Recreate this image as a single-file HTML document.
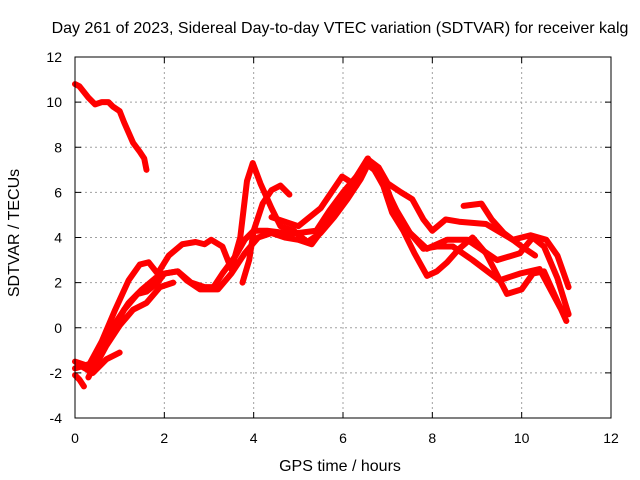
<!DOCTYPE html>
<html><head><meta charset="utf-8"><style>
body{margin:0;background:#fff}
svg{display:block;font-family:"Liberation Sans",sans-serif}
</style></head><body>
<svg id="chart" width="640" height="480">
<rect width="640" height="480" fill="#fff"/>
<text x="340" y="33" text-anchor="middle" font-size="16">Day 261 of 2023, Sidereal Day-to-day VTEC variation (SDTVAR) for receiver kalg</text>
<g id="grid"></g>
<g id="series"></g>
<rect x="75" y="57" width="536" height="361" fill="none" stroke="#000" stroke-width="1"/>
<g id="ticks"></g>
<text x="340" y="471" text-anchor="middle" font-size="16">GPS time / hours</text>
<text x="19" y="233" text-anchor="middle" font-size="16" transform="rotate(-90 19 233)">SDTVAR / TECUs</text>
</svg>
<script>
const xTicks=[0,2,4,6,8,10,12];
const yTicks=[-4,-2,0,2,4,6,8,10,12];
const trackA=[[0,10.8],[0.1,10.7],[0.3,10.2],[0.45,9.9],[0.6,10],[0.75,10],[0.85,9.8],[1.0,9.6],[1.1,9.1],[1.3,8.2],[1.45,7.8],[1.55,7.5],[1.6,7.0]];
const trackB=[[0,-1.5],[0.3,-1.7],[0.6,-0.6],[0.9,0.8],[1.2,2.1],[1.45,2.8],[1.65,2.9],[1.85,2.4],[2.1,3.2],[2.4,3.7],[2.7,3.8],[2.9,3.7],[3.05,3.9],[3.3,3.6],[3.5,2.6],[3.7,4.0],[3.85,6.5],[3.98,7.3],[4.15,6.4],[4.4,5.3],[4.6,4.5],[4.9,4.3],[5.2,3.8],[5.5,4.2],[5.8,4.9],[6.1,5.7],[6.4,6.6],[6.6,7.4],[6.8,7.1],[7.0,6.4],[7.3,6.0],[7.55,5.7],[7.8,4.8],[8.0,4.3],[8.3,4.8],[8.6,4.7],[9.2,4.6],[9.8,3.9],[10.2,4.1],[10.55,3.9],[10.8,3.2],[11.05,1.8]];
const trackC=[[0,-2.1],[0.1,-2.3],[0.2,-2.6]];
const trackC2=[[0.05,-1.6],[0.4,-2.0],[0.7,-1.4],[1.0,-1.1]];
const trackD=[[0,-1.8],[0.5,-1.5],[0.8,-0.3],[1.1,0.8],[1.4,1.5],[1.6,1.6],[1.85,2.0],[2.0,2.4],[2.3,2.5],[2.6,2.0],[2.9,1.8],[3.1,1.8],[3.3,2.4],[3.6,3.2],[3.8,3.9],[4.0,4.3],[4.3,4.3],[4.7,4.2],[5.0,4.2],[5.4,4.3],[5.7,5.2],[6.0,6.0],[6.3,6.7],[6.55,7.5],[6.8,6.8],[7.0,6.1],[7.2,5.0],[7.5,4.2],[7.8,3.5],[8.1,3.6],[8.46,3.6],[8.9,3.0],[9.5,2.1],[9.96,2.4],[10.4,2.6],[10.86,0.9],[11.05,0.6]];
const trackE=[[0.3,-2.2],[0.6,-1.0],[0.9,0.2],[1.2,1.1],[1.5,1.7],[1.8,2.2],[2.0,2.4],[2.3,2.5],[2.5,2.1],[2.8,1.7],[3.2,1.7],[3.5,2.4],[3.8,3.3],[4.1,4.0],[4.4,4.2],[4.7,4.0],[5.0,3.9],[5.3,3.7],[5.6,4.5],[5.9,5.4],[6.2,6.4],[6.5,7.3],[6.7,7.0],[6.98,6.1],[7.2,5.2],[7.5,4.2],[7.88,3.5],[8.33,3.9],[8.78,3.9],[9.45,3.0],[9.96,3.3],[10.25,4.0],[10.5,3.6],[10.8,2.2],[11.05,0.6]];
const trackF=[[0.4,-1.9],[0.7,-0.8],[1.0,0.1],[1.3,0.8],[1.6,1.1],[1.9,1.8],[2.2,2.0]];
const trackG=[[3.75,2.0],[3.9,3.0],[4.0,4.3],[4.2,5.5],[4.4,6.1],[4.6,6.3],[4.8,5.9]];
const trackH=[[4.4,4.9],[5.0,4.5],[5.5,5.3],[5.98,6.7],[6.3,6.3],[6.56,7.5],[6.9,6.3],[7.1,5.1],[7.35,4.3],[7.6,3.3],[7.88,2.3],[8.1,2.5],[8.33,2.9],[8.6,3.5],[8.9,4.0],[9.2,3.3],[9.67,1.5],[10.0,1.7],[10.25,2.4],[10.5,2.5],[11.0,0.3]];
const trackI=[[8.7,5.4],[9.1,5.5],[9.33,4.8],[9.6,4.2],[10.0,3.6],[10.3,3.2]];
const tracks=[trackA,trackB,trackC,trackC2,trackD,trackE,trackF,trackG,trackH,trackI];
const X0=75,X1=611,Y0=418,Y1=57;
function sx(h){return X0+(h-0)/(12-0)*(X1-X0);}
function sy(v){return Y0-(v+4)/16*(Y0-Y1);}
const NS="http://www.w3.org/2000/svg";
const grid=document.getElementById('grid'),ticks=document.getElementById('ticks'),ser=document.getElementById('series');
function mk(t,a){const e=document.createElementNS(NS,t);for(const k in a)e.setAttribute(k,a[k]);return e;}
xTicks.forEach(t=>{
 const x=sx(t);
 if(t>0&&t<12){const g=mk('line',{x1:x,y1:Y1,x2:x,y2:Y0,stroke:'#a0a0a0','stroke-dasharray':'2,3'});
 
 
 grid.appendChild(g);}
 const tk=mk('path',{d:`M${x},${Y0}v-6M${x},${Y1}v6`,stroke:'#000'});
 
 
 ticks.appendChild(tk);
 const l=mk('text',{x:x,y:443,'text-anchor':'middle','font-size':'14'});l.textContent=t;
 
 
 ticks.appendChild(l);
});
yTicks.forEach(t=>{
 const y=sy(t);
 if(t>-4&&t<12){const g=mk('line',{x1:X0,y1:y,x2:X1,y2:y,stroke:'#a0a0a0','stroke-dasharray':'2,3'});
 
 
 grid.appendChild(g);}
 const tk=mk('path',{d:`M${X0},${y}h6M${X1},${y}h-6`,stroke:'#000'});
 
 
 ticks.appendChild(tk);
 const l=mk('text',{x:62,y:y+5,'text-anchor':'end','font-size':'14'});l.textContent=t;
 
 
 ticks.appendChild(l);
});
tracks.forEach((tr,i)=>{
 const p=mk('polyline',{points:tr.map(d=>sx(d[0])+','+sy(d[1])).join(' '),fill:'none',stroke:'#ff0000','stroke-width':'6','stroke-linejoin':'round','stroke-linecap':'round'});
 
 
 ser.appendChild(p);
});
</script>
</body></html>
